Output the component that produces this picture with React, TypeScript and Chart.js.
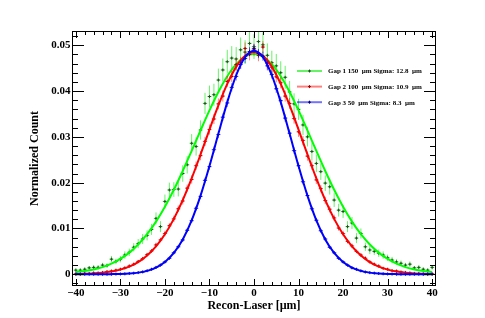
import React, { useEffect, useRef } from 'react';
import { Chart, registerables } from 'chart.js';

Chart.register(...registerables);

const FONT = '"Liberation Serif", "Times New Roman", serif';

// bin centres (µm)
const binX = [-40,-39,-38,-37,-36,-35,-34,-33,-32,-31,-30,-29,-28,-27,-26,-25,-24,-23,-22,-21,-20,-19,-18,-17,-16,-15,-14,-13,-12,-11,-10,-9,-8,-7,-6,-5,-4,-3,-2,-1,0,1,2,3,4,5,6,7,8,9,10,11,12,13,14,15,16,17,18,19,20,21,22,23,24,25,26,27,28,29,30,31,32,33,34,35,36,37,38,39,40];

// Gap 1 (green) histogram
const gap1Vals = [0.0009,0.0009,0.0011,0.0014,0.0015,0.0015,0.0020,0.0019,0.0033,0.0028,0.0033,0.0042,0.0048,0.0059,0.0067,0.0077,0.0085,0.0098,0.0122,0.0104,0.0159,0.0184,0.0185,0.0186,0.0220,0.0239,0.0286,0.0279,0.0315,0.0373,0.0388,0.0392,0.0424,0.0446,0.0464,0.0472,0.0470,0.0490,0.0485,0.0504,0.0497,0.0508,0.0501,0.0478,0.0462,0.0455,0.0440,0.0430,0.0398,0.0372,0.0360,0.0326,0.0300,0.0268,0.0242,0.0224,0.0199,0.0191,0.0162,0.0140,0.0137,0.0104,0.0112,0.0079,0.0089,0.0060,0.0053,0.0050,0.0046,0.0042,0.0036,0.0031,0.0027,0.0024,0.0020,0.0022,0.0014,0.0015,0.0011,0.0009,0.0015];
// errors in units of 1e-4
const gap1Errs = [4,4,4,4,5,5,5,5,7,6,7,8,8,9,10,11,11,12,13,12,15,16,16,16,18,19,20,20,21,23,24,24,25,25,26,26,26,27,26,27,27,27,27,26,26,26,25,25,24,23,23,22,21,20,19,18,17,17,15,14,14,12,13,11,11,9,9,8,8,8,7,7,6,6,5,6,4,5,4,4,5];

// Gap 2 (red) histogram
const gap2Vals = [0.0001,0.0001,0.0002,0.0002,0.0003,0.0003,0.0004,0.0006,0.0007,0.0009,0.0011,0.0014,0.0018,0.0022,0.0028,0.0034,0.0043,0.0051,0.0064,0.0075,0.0089,0.0106,0.0121,0.0143,0.0160,0.0188,0.0207,0.0237,0.0259,0.0290,0.0316,0.0339,0.0372,0.0389,0.0421,0.0432,0.0458,0.0462,0.0493,0.0480,0.0490,0.0478,0.0496,0.0460,0.0452,0.0431,0.0418,0.0389,0.0373,0.0340,0.0311,0.0292,0.0258,0.0237,0.0206,0.0187,0.0161,0.0142,0.0123,0.0101,0.0089,0.0072,0.0062,0.0050,0.0042,0.0035,0.0027,0.0022,0.0018,0.0013,0.0011,0.0008,0.0007,0.0005,0.0004,0.0003,0.0002,0.0002,0.0001,0.0001,0.0001];
const gap2Errs = [1,1,1,1,1,1,1,2,2,2,2,2,3,3,3,4,4,4,5,5,6,6,7,7,8,8,9,9,10,10,11,11,12,12,12,12,13,13,13,13,13,13,13,13,13,12,12,12,12,11,11,10,10,9,9,8,8,7,7,6,6,5,5,4,4,4,3,3,3,2,2,2,2,1,1,1,1,1,1,1,1];

// Gap 3 (blue) histogram
const gap3Vals = [0,0,0,0,0,0,0,0,0.00003,0.00005,0.00007,0.0001,0.00018,0.00024,0.00037,0.00052,0.00078,0.0011,0.0015,0.0020,0.0027,0.0035,0.0047,0.0060,0.0075,0.0096,0.0117,0.0144,0.0170,0.0205,0.0235,0.0272,0.0305,0.0343,0.0374,0.0408,0.0432,0.0458,0.0471,0.0486,0.0493,0.0482,0.0476,0.0455,0.0436,0.0405,0.0379,0.0341,0.0308,0.0270,0.0237,0.0202,0.0172,0.0143,0.0118,0.0095,0.0077,0.0059,0.0047,0.0035,0.0027,0.0020,0.0014,0.0011,0.00075,0.0005,0.00036,0.00025,0.00017,0.00011,0.00007,0.00005,0.00003,0,0,0,0,0,0,0,0];
const gap3Errs = [0,0,0,0,0,0,0,0,0,0,0,0,1,1,1,1,1,1,2,2,2,3,3,3,4,4,5,5,6,6,7,7,8,8,9,9,9,10,10,10,10,10,10,10,9,9,9,8,8,7,7,6,6,5,5,4,4,3,3,3,2,2,2,1,1,1,1,1,1,0,0,0,0,0,0,0,0,0,0,0,0];

// fitted curves
const curveX = [-40,-38,-36,-34,-32,-30,-28,-26,-24,-22,-20,-18,-16,-14,-12,-10,-8,-6,-4,-2,0,2,4,6,8,10,12,14,16,18,20,22,24,26,28,30,32,34,36,38,40];
const gap1Fit = [0.0005,0.0007,0.00104,0.00157,0.00233,0.00336,0.00473,0.00651,0.00875,0.01149,0.01473,0.01844,0.02255,0.02693,0.03141,0.03578,0.0398,0.04324,0.04588,0.04753,0.0481,0.04753,0.04588,0.04324,0.0398,0.03578,0.03141,0.02693,0.02255,0.01844,0.01473,0.01149,0.00875,0.00651,0.00473,0.00336,0.00233,0.00157,0.00104,0.0007,0.0005];
const gap2Fit = [0.00005,0.0001,0.00019,0.00034,0.0006,0.00102,0.00168,0.00267,0.00411,0.00609,0.00873,0.01209,0.01619,0.02093,0.02616,0.03159,0.03686,0.04156,0.04528,0.04768,0.0485,0.04768,0.04528,0.04156,0.03686,0.03159,0.02616,0.02093,0.01619,0.01209,0.00873,0.00609,0.00411,0.00267,0.00168,0.00102,0.0006,0.00034,0.00019,0.0001,0.00005];
const gap3Fit = [0,0,0.00001,0.00001,0.00003,0.00007,0.00017,0.00036,0.00075,0.00146,0.00268,0.00465,0.00761,0.01177,0.01716,0.02362,0.03067,0.03758,0.04345,0.0474,0.0488,0.0474,0.04345,0.03758,0.03067,0.02362,0.01716,0.01177,0.00761,0.00465,0.00268,0.00146,0.00075,0.00036,0.00017,0.00007,0.00003,0.00001,0.00001,0,0];

const legendLabels = [
  'Gap 1 150  \u00b5m Sigma: 12.8  \u00b5m',
  'Gap 2 100  \u00b5m Sigma: 10.9  \u00b5m',
  'Gap 3 50  \u00b5m Sigma: 8.3  \u00b5m',
];

const xTickValues = [-40, -30, -20, -10, 0, 10, 20, 30, 40];
const yTickValues = [0, 0.01, 0.02, 0.03, 0.04, 0.05];
const xMinorStep = 2;
const yMinorStep = 0.002;

const xTitle = 'Recon-Laser [\u00b5m]';
const yTitle = 'Normalized Count';

const LINE_COLORS = ['#00ff00', '#ff0000', '#0000ff'];
const ERR_COLORS = ['rgba(0,235,0,0.6)', 'rgba(255,0,0,0.5)', 'rgba(0,0,255,0.55)'];
const MARK_COLORS = ['#1f4f1f', '#a00000', '#000080'];

const rootPlugin = {
  id: 'rootStyle',
  beforeDatasetDraw(chart: any, args: any) {
    const ds: any = chart.data.datasets[args.index];
    if (!ds.errs) return;
    const { ctx, chartArea: a } = chart;
    const x = chart.scales.x;
    const y = chart.scales.y;
    ctx.save();
    ctx.beginPath();
    ctx.rect(a.left, a.top, a.right - a.left, a.bottom - a.top);
    ctx.clip();
    ctx.strokeStyle = ds.errColor;
    ctx.lineWidth = 1;
    ds.data.forEach((p: any, i: number) => {
      const e = ds.errs[i] * 1e-4;
      const px = x.getPixelForValue(p.x);
      const py = y.getPixelForValue(p.y);
      ctx.beginPath();
      if (e > 0) {
        ctx.moveTo(px, y.getPixelForValue(p.y - e));
        ctx.lineTo(px, y.getPixelForValue(p.y + e));
      }
      ctx.moveTo(x.getPixelForValue(p.x - 0.5), py);
      ctx.lineTo(x.getPixelForValue(p.x + 0.5), py);
      ctx.stroke();
    });
    ctx.restore();
  },
  afterDatasetsDraw(chart: any) {
    const { ctx, chartArea: a } = chart;
    const x = chart.scales.x;
    const y = chart.scales.y;
    ctx.save();
    ctx.strokeStyle = '#000';
    ctx.lineWidth = 1;
    ctx.strokeRect(a.left, a.top, a.right - a.left, a.bottom - a.top);
    ctx.beginPath();
    // x ticks
    for (let v = xTickValues[0]; v <= xTickValues[xTickValues.length - 1] + 1e-9; v += xMinorStep) {
      const major = xTickValues.some((t) => Math.abs(t - v) < 1e-9);
      const len = major ? 6.5 : 3.5;
      const px = Math.round(x.getPixelForValue(v)) + 0.5;
      ctx.moveTo(px, a.bottom);
      ctx.lineTo(px, a.bottom - len);
      ctx.moveTo(px, a.top);
      ctx.lineTo(px, a.top + len);
    }
    // y ticks
    for (let k = -1; k <= 26; k++) {
      const v = k * yMinorStep;
      const major = k % 5 === 0;
      const len = major ? 11.5 : 5.5;
      const py = Math.round(y.getPixelForValue(v)) + 0.5;
      if (py < a.top || py > a.bottom) continue;
      ctx.moveTo(a.left, py);
      ctx.lineTo(a.left + len, py);
      ctx.moveTo(a.right, py);
      ctx.lineTo(a.right - len, py);
    }
    ctx.stroke();

    // titles
    ctx.fillStyle = '#000';
    ctx.font = 'bold 12px ' + FONT;
    ctx.textAlign = 'center';
    ctx.textBaseline = 'alphabetic';
    ctx.fillText(xTitle, (a.left + a.right) / 2, 309);
    ctx.save();
    ctx.translate(37.5, (a.top + a.bottom) / 2);
    ctx.rotate(-Math.PI / 2);
    ctx.fillText(yTitle, 0, 0);
    ctx.restore();

    // legend
    ctx.font = 'bold 7px ' + FONT;
    ctx.textAlign = 'left';
    ctx.textBaseline = 'middle';
    legendLabels.forEach((lab, i) => {
      const ly = a.top + 39.5 + i * 15.6;
      const x0 = a.left + 224.5;
      const x1 = a.left + 249.5;
      ctx.strokeStyle = ERR_COLORS[i];
      ctx.lineWidth = 2;
      ctx.beginPath();
      ctx.moveTo(x0, ly);
      ctx.lineTo(x1, ly);
      ctx.stroke();
      const cx = (x0 + x1) / 2;
      ctx.strokeStyle = MARK_COLORS[i];
      ctx.lineWidth = 1;
      ctx.beginPath();
      ctx.moveTo(cx - 1.5, ly);
      ctx.lineTo(cx + 1.5, ly);
      ctx.moveTo(cx, ly - 1.5);
      ctx.lineTo(cx, ly + 1.5);
      ctx.stroke();
      ctx.fillStyle = '#000';
      ctx.fillText(lab, a.left + 255.5, ly + 0.5);
    });
    ctx.restore();
  },
};

function pts(vals: number[], errs: number[], i: number) {
  return {
    type: 'line',
    data: vals.map((v, k) => ({ x: binX[k], y: v })),
    showLine: false,
    pointStyle: 'cross',
    pointRadius: 1.5,
    pointBorderWidth: 1,
    pointBorderColor: MARK_COLORS[i],
    pointBackgroundColor: MARK_COLORS[i],
    errs,
    errColor: ERR_COLORS[i],
  };
}

function fit(vals: number[], i: number) {
  return {
    type: 'line',
    data: vals.map((v, k) => ({ x: curveX[k], y: v })),
    borderColor: LINE_COLORS[i],
    borderWidth: 2,
    pointRadius: 0,
    fill: false,
    cubicInterpolationMode: 'monotone',
  };
}

export default function App() {
  const ref = useRef<HTMLCanvasElement | null>(null);
  useEffect(() => {
    if (!ref.current) return;
    const tickFont = { family: FONT, size: 11, weight: 'bold' as const };
    const chart = new Chart(ref.current, {
      type: 'line',
      data: {
        datasets: [
          fit(gap3Fit, 2),
          pts(gap3Vals, gap3Errs, 2),
          fit(gap2Fit, 1),
          pts(gap2Vals, gap2Errs, 1),
          fit(gap1Fit, 0),
          pts(gap1Vals, gap1Errs, 0),
        ] as any,
      },
      options: {
        responsive: false,
        devicePixelRatio: 1,
        animation: false,
        events: [],
        layout: { padding: { left: 0, top: 31.5, right: 49.5, bottom: 0 } },
        plugins: { legend: { display: false }, tooltip: { enabled: false } },
        scales: {
          x: {
            type: 'linear',
            min: -40.75,
            max: 40.75,
            afterFit: (s: any) => { s.height = 32.5; },
            afterBuildTicks: (s: any) => { s.ticks = xTickValues.map((v) => ({ value: v })); },
            grid: { display: false, drawTicks: false },
            border: { display: false },
            ticks: {
              font: tickFont,
              color: '#000',
              padding: 1,
              maxRotation: 0,
              autoSkip: false,
              callback: (v: any) => (v < 0 ? '\u2212' + Math.abs(v) : String(v)),
            },
          },
          y: {
            type: 'linear',
            min: -0.00245,
            max: 0.0530,
            afterFit: (s: any) => { s.width = 72.5; },
            afterBuildTicks: (s: any) => { s.ticks = yTickValues.map((v) => ({ value: v })); },
            grid: { display: false, drawTicks: false },
            border: { display: false },
            ticks: {
              font: tickFont,
              color: '#000',
              padding: 2,
              autoSkip: false,
              callback: (v: any) => (v === 0 ? '0' : Number(v).toFixed(2)),
            },
          },
        },
      } as any,
      plugins: [rootPlugin],
    });
    return () => chart.destroy();
  }, []);
  return (
    <div style={{ position: 'absolute', left: 0, top: 0, width: 485, height: 318, background: '#fff' }}>
      <canvas ref={ref} width={485} height={318} style={{ width: 485, height: 318 }} />
    </div>
  );
}
